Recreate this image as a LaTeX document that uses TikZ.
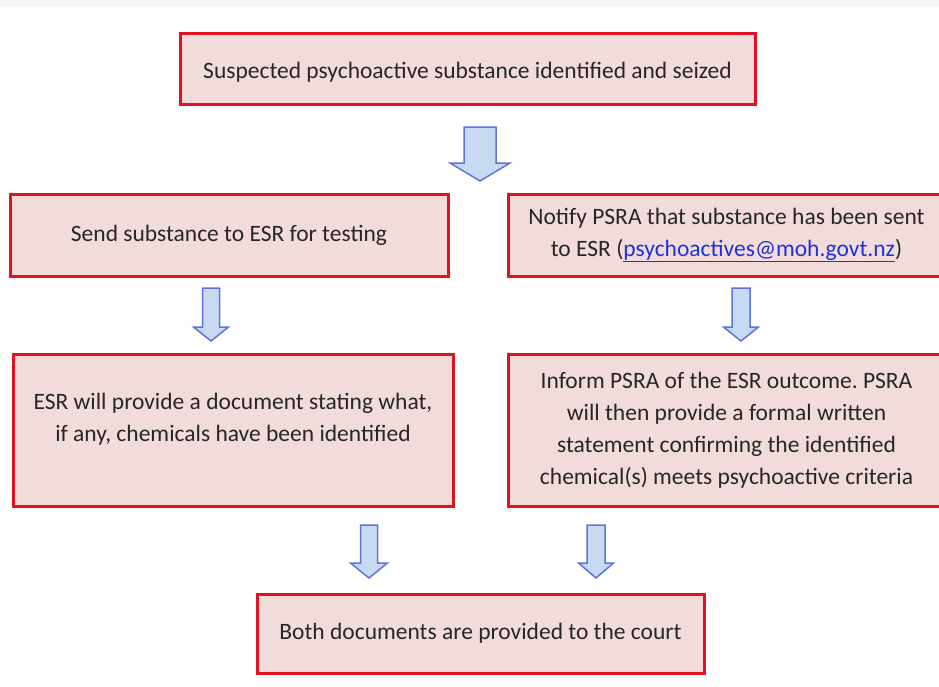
\documentclass[tikz,border=0pt]{standalone}
\usepackage{fontspec}
\setmainfont{Carlito}
\frenchspacing

\definecolor{boxfill}{RGB}{242,220,219}
\definecolor{boxline}{RGB}{228,18,32}
\definecolor{arrowfill}{RGB}{200,218,242}
\definecolor{arrowline}{RGB}{95,115,225}
\definecolor{linkblue}{RGB}{30,50,220}

\begin{document}
\begin{tikzpicture}[x=1pt,y=-1pt]
    \tikzstyle{stepbox}=[rectangle,draw=boxline,fill=boxfill,line width=3pt,inner sep=0pt]
    \tikzstyle{boxtext}=[align=center,text=black!85,font=\fontsize{23.5}{32}\selectfont]
    \tikzstyle{blockarrow}=[draw=arrowline,fill=arrowfill,line width=1.5pt,line join=miter]

    % Frame of the page
    \useasboundingbox (0,0) rectangle (939,686);
    \clip (0,0) rectangle (939,686);
    \fill[gray!7] (0,0) rectangle (939,7);

    % Draw the steps
    \node[stepbox,minimum width=575,minimum height=71] (seized) at (467.5,68.5) {};
    \node[boxtext] (seized text) at (467.5,72)
        {Suspected psychoactive substance identified and seized};
    \node[stepbox,boxtext,minimum width=438,minimum height=82] (send) at (229,235)
        {Send substance to ESR for testing};
    \node[stepbox,boxtext,minimum width=437,minimum height=82] (notify) at (726.5,235)
        {Notify PSRA that substance has been sent\\
         to ESR ({\color{linkblue}\underline{psychoactives@moh.govt.nz}})};
    \node[stepbox,minimum width=440,minimum height=152] (esrdoc) at (233,430) {};
    \node[boxtext] (esrdoc text) at (233,419.5)
        {ESR will provide a document stating what,\\
         if any, chemicals have been identified};
    \node[stepbox,boxtext,minimum width=437,minimum height=152] (inform) at (726.5,430)
        {Inform PSRA of the ESR outcome. PSRA\\
         will then provide a formal written\\
         statement confirming the identified\\
         chemical(s) meets psychoactive criteria};
    \node[stepbox,boxtext,minimum width=447,minimum height=79] (court) at (480.5,633.5)
        {Both documents are provided to the court};

    % Draw the block arrows between the steps
    % (centre / top / start of head / tip / half shaft / half head)
    \foreach \x / \t / \h / \p / \s / \w in {480/127/163/181/16/30,
                                           211/288/327/341/8.5/17.5,
                                           741/288/327/341/9/17.5,
                                           369/525/563/578/8.5/18.5,
                                           596/525/563/578/9/17.5}
        \draw[blockarrow] ({\x-\s},\t) -- ({\x+\s},\t) -- ({\x+\s},\h) -- ({\x+\w},\h)
            -- (\x,\p) -- ({\x-\w},\h) -- ({\x-\s},\h) -- cycle;
\end{tikzpicture}
\end{document}
